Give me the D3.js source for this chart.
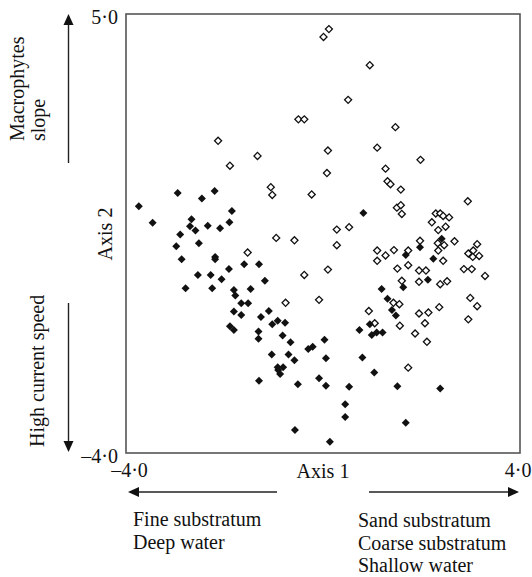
<!DOCTYPE html>
<html>
<head>
<meta charset="utf-8">
<script src="https://cdn.jsdelivr.net/npm/d3@7"></script>
<style>
  body { margin: 0; background: #fff; }
  svg text { font-family: "Liberation Serif", "Times New Roman", serif; font-size: 20px; fill: #111; }
</style>
</head>
<body>
<div id="chart"></div>
<script>
// Ordination scores
// filled diamonds
const filledX = [-3.74,-2.95,-2.46,-2.20,-3.46,-2.67,-2.70,-2.59,-2.34,-2.09,-1.90,-1.85,-2.90,-2.98,-2.52,
  -2.87,-2.19,-2.19,-1.60,-1.30,-2.54,-2.28,-1.91,-2.06,-1.18,-2.79,-2.25,-1.81,-1.47,-1.78,
  -1.66,-1.52,-1.81,-1.66,-1.10,-1.26,-1.03,-0.92,-0.77,-1.89,-1.81,-1.31,-1.31,-0.82,-0.66,
  -1.04,-0.70,-0.58,-0.92,-0.81,-0.87,-0.91,-1.30,-0.51,-0.57,
  0.82,2.41,1.97,1.68,2.24,2.13,1.63,1.19,1.31,1.40,1.48,0.95,0.74,0.99,1.09,
  1.21,0.03,-0.21,-0.30,0.06,0.80,-0.08,0.06,0.53,1.04,1.51,2.38,0.45,0.45,1.68,0.14];
const filledY = [1.06,1.33,1.22,1.37,0.72,0.79,0.65,0.56,0.66,0.61,0.73,0.96,0.48,0.24,0.30,
  -0.03,0.02,-0.03,-0.13,-0.13,-0.35,-0.35,-0.23,-0.44,-0.47,-0.62,-0.62,-0.66,-0.64,-0.77,
  -0.93,-0.93,-1.10,-1.17,-1.09,-1.21,-1.36,-1.29,-1.33,-1.40,-1.48,-1.51,-1.66,-1.59,-1.73,
  -1.98,-1.98,-2.10,-2.24,-2.24,-2.38,-2.30,-2.52,-2.59,-3.53,
  0.92,0.39,0.22,0.06,-0.02,-0.45,-0.60,-0.64,-0.84,-1.07,-1.18,-1.36,-1.48,-1.58,-1.53,
  -1.53,-1.68,-1.82,-1.87,-2.06,-2.04,-2.47,-2.62,-2.64,-2.35,-2.63,-2.68,-3.00,-3.26,-3.38,-3.77];

// open diamonds
const openX = [0.12,0.01,0.95,0.51,-0.50,-0.38,1.47,-2.13,-1.33,-1.89,0.10,1.10,1.98,0.08,1.27,
  -1.06,-1.03,1.31,1.37,1.58,-0.23,2.94,1.50,1.58,1.60,0.28,0.53,2.29,2.38,2.44,
  2.56,2.21,2.49,2.34,-0.95,-0.58,1.97,2.67,-1.53,0.28,1.10,1.10,1.27,1.44,1.73,
  2.33,2.46,2.34,2.44,3.13,2.95,3.05,3.04,3.17,-0.38,0.10,1.51,1.73,1.95,2.09,
  1.60,1.95,2.38,2.52,2.86,3.02,3.29,-0.08,1.43,1.55,0.93,1.05,1.56,1.95,2.14,
  2.36,2.07,1.87,2.11,2.99,3.13,2.95,1.73,-0.76];
const openY = [4.69,4.53,3.95,3.24,2.84,2.84,2.68,2.40,2.09,1.89,2.20,2.26,2.01,1.74,1.83,
  1.45,1.29,1.57,1.51,1.40,1.30,1.16,1.03,1.08,0.90,0.58,0.63,0.91,0.91,0.86,
  0.83,0.73,0.64,0.57,0.41,0.36,0.35,0.34,0.11,0.26,0.15,-0.06,0.05,0.16,0.15,
  0.30,0.26,0.15,-0.06,0.28,0.09,0.15,0.02,0.04,-0.35,-0.24,-0.22,-0.15,-0.26,-0.26,
  -0.47,-0.49,-0.54,-0.48,-0.23,-0.23,-0.37,-0.86,-0.92,-0.95,-1.09,-1.34,-1.39,-1.14,-1.12,
  -1.01,-1.34,-1.55,-1.72,-0.82,-0.99,-1.26,-2.25,-0.92];

const xDomain = [-4, 4];
const yDomain = [-4, 5];

const width = 532, height = 577;
const margin = { top: 14, right: 12, bottom: 124, left: 126 };

const svg = d3.select("#chart").append("svg")
    .attr("width", width)
    .attr("height", height);

const x = d3.scaleLinear().domain(xDomain).range([margin.left, width - margin.right]);
const y = d3.scaleLinear().domain(yDomain).range([height - margin.bottom, margin.top]);

const fmt = d => (d < 0 ? "\u2013" : "") + Math.abs(d).toFixed(1).replace(".", "\u00b7");

// frame
svg.append("rect")
    .attr("x", x(xDomain[0]))
    .attr("y", y(yDomain[1]))
    .attr("width", x(xDomain[1]) - x(xDomain[0]))
    .attr("height", y(yDomain[0]) - y(yDomain[1]))
    .attr("fill", "none")
    .attr("stroke", "#555")
    .attr("stroke-width", 1.6);

// end-point tick labels only
const xAxis = svg.append("g")
    .attr("transform", "translate(0," + y(yDomain[0]) + ")")
    .call(d3.axisBottom(x).tickValues(xDomain).tickSize(0).tickPadding(10).tickFormat(fmt));
const yAxis = svg.append("g")
    .attr("transform", "translate(" + x(xDomain[0]) + ",0)")
    .call(d3.axisLeft(y).tickValues(yDomain).tickSize(0).tickPadding(8).tickFormat(fmt));
[xAxis, yAxis].forEach(a => {
  a.select(".domain").remove();
  a.selectAll("text").attr("font-family", null).attr("font-size", null);
});
yAxis.selectAll("text").attr("dy", "0.45em");
// keep the right-hand label inside the page
xAxis.selectAll(".tick text").filter(d => d === xDomain[1])
    .attr("text-anchor", "end").attr("x", 11);
xAxis.selectAll(".tick text").filter(d => d === xDomain[0])
    .attr("x", 3);

// points
const diamond = d3.symbol().type(d3.symbolSquare);
const openPts = openX.map((v, i) => [v, openY[i]]);
const filledPts = filledX.map((v, i) => [v, filledY[i]]);

svg.append("g").selectAll("path")
    .data(openPts)
    .join("path")
    .attr("d", diamond.size(25)())
    .attr("transform", d => "translate(" + x(d[0]) + "," + y(d[1]) + ") rotate(45)")
    .attr("fill", "#fff")
    .attr("stroke", "#111")
    .attr("stroke-width", 1.3);

svg.append("g").selectAll("path")
    .data(filledPts)
    .join("path")
    .attr("d", diamond.size(32)())
    .attr("transform", d => "translate(" + x(d[0]) + "," + y(d[1]) + ") rotate(45)")
    .attr("fill", "#111");

// axis titles
svg.append("text")
    .attr("x", (x(xDomain[0]) + x(xDomain[1])) / 2)
    .attr("y", 478)
    .attr("text-anchor", "middle")
    .text("Axis 1");

svg.append("text")
    .attr("transform", "translate(112," + 234 + ") rotate(-90)")
    .attr("text-anchor", "middle")
    .text("Axis 2");

// gradient arrows
function arrow(x1, y1, x2, y2) {
  const ang = Math.atan2(y2 - y1, x2 - x1);
  const len = 11, half = 5;
  const bx = x2 - len * Math.cos(ang), by = y2 - len * Math.sin(ang);
  svg.append("line")
      .attr("x1", x1).attr("y1", y1).attr("x2", bx).attr("y2", by)
      .attr("stroke", "#222").attr("stroke-width", 1.4);
  svg.append("path")
      .attr("d", "M" + x2 + "," + y2 +
                 "L" + (bx - half * Math.sin(ang)) + "," + (by + half * Math.cos(ang)) +
                 "L" + (bx + half * Math.sin(ang)) + "," + (by - half * Math.cos(ang)) + "Z")
      .attr("fill", "#111");
}

arrow(68.5, 163, 68.5, 14);
arrow(68.5, 303, 68.5, 452);
arrow(277, 492, 128, 492);
arrow(369, 492, 519, 492);

// arrow captions
svg.append("text")
    .attr("transform", "translate(24,141) rotate(-90)")
    .text("Macrophytes");
svg.append("text")
    .attr("transform", "translate(45,141) rotate(-90)")
    .text("slope");
svg.append("text")
    .attr("transform", "translate(44,447) rotate(-90)")
    .text("High current speed");

const leftNotes = ["Fine substratum", "Deep water"];
const rightNotes = ["Sand substratum", "Coarse substratum", "Shallow water"];

svg.append("g").selectAll("text")
    .data(leftNotes)
    .join("text")
    .attr("x", 133)
    .attr("y", (d, i) => 526 + i * 23)
    .text(d => d);

svg.append("g").selectAll("text")
    .data(rightNotes)
    .join("text")
    .attr("x", 358)
    .attr("y", (d, i) => 527 + i * 22.5)
    .text(d => d);
</script>
</body>
</html>
